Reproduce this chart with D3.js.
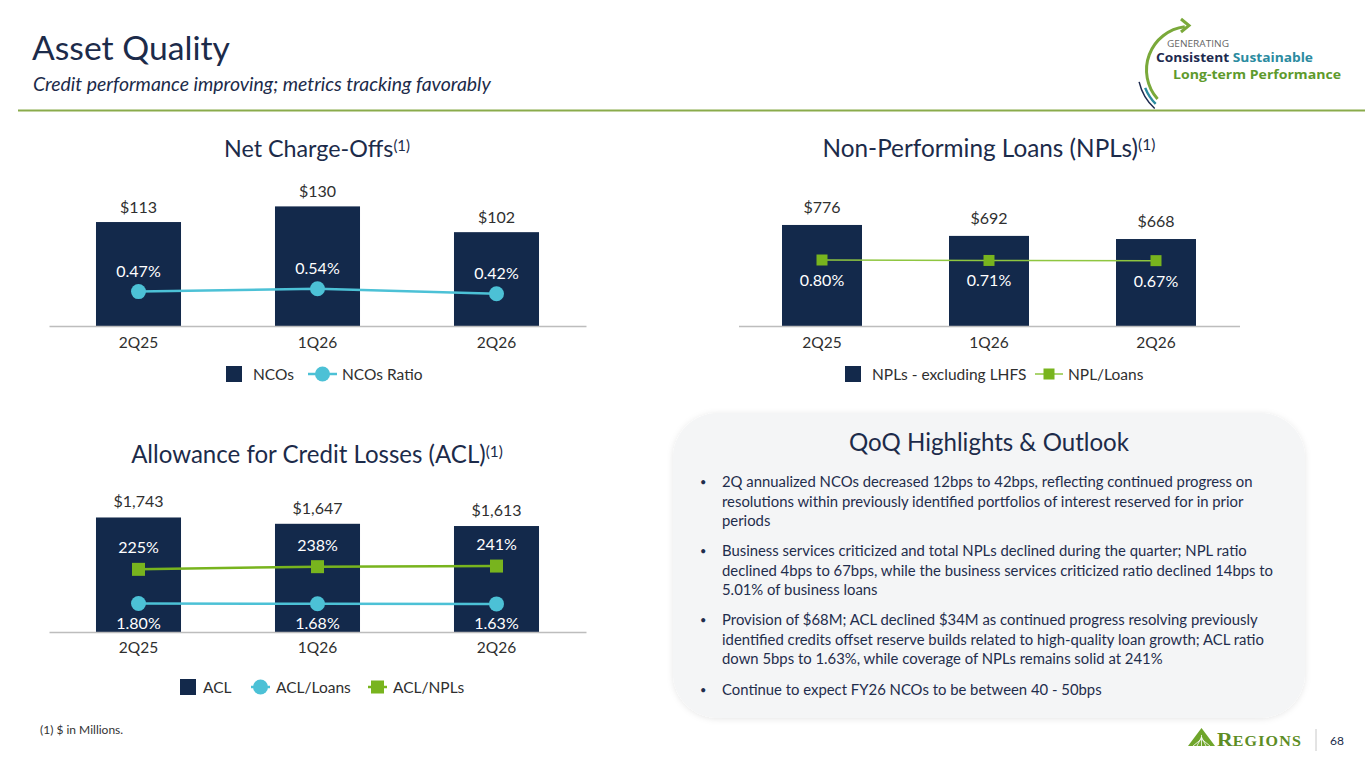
<!DOCTYPE html>
<html><head><meta charset="utf-8">
<script src="https://cdn.jsdelivr.net/npm/d3@7"></script>
<style>
body{margin:0;background:#fff;}
svg{display:block;font-family:Lato,'Noto Sans',sans-serif;}
</style>
</head><body>
<script>
// ---------------- data ----------------
const categories = ["2Q25", "1Q26", "2Q26"];
const ncoValues = [113, 130, 102];
const ncoRatio = [0.47, 0.54, 0.42];
const nplValues = [776, 692, 668];
const nplRatio = [0.80, 0.71, 0.67];
const aclValues = [1743, 1647, 1613];
const aclToLoans = [1.80, 1.68, 1.63];
const aclToNpls = [225, 238, 241];
const highlights = [
  ["2Q annualized NCOs decreased 12bps to 42bps, reflecting continued progress on",
   "resolutions within previously identified portfolios of interest reserved for in prior",
   "periods"],
  ["Business services criticized and total NPLs declined during the quarter; NPL ratio",
   "declined 4bps to 67bps, while the business services criticized ratio declined 14bps to",
   "5.01% of business loans"],
  ["Provision of $68M; ACL declined $34M as continued progress resolving previously",
   "identified credits offset reserve builds related to high-quality loan growth; ACL ratio",
   "down 5bps to 1.63%, while coverage of NPLs remains solid at 241%"],
  ["Continue to expect FY26 NCOs to be between 40 - 50bps"]
];

// ---------------- style ----------------
const NAVY = "#13294b", CYAN = "#4cc1d6", GREEN = "#78b41e", GREEN_L = "#8fc640";
const TXT = "#2f2f2f", TITLE = "#1c2b4a";
const W = 1365, H = 768;

const svg = d3.select("body").append("svg").attr("width", W).attr("height", H);
const defs = svg.append("defs");
const f = defs.append("filter").attr("id", "shadow").attr("x", "-5%").attr("y", "-5%").attr("width", "110%").attr("height", "115%");
f.append("feDropShadow").attr("dx", 0).attr("dy", 1).attr("stdDeviation", 3).attr("flood-color", "#000").attr("flood-opacity", 0.10);

function fitWidth(sel, target) {
  const w = sel.node().getComputedTextLength();
  const fs = parseFloat(sel.attr("font-size"));
  sel.attr("font-size", (fs * target / w).toFixed(2));
}

// ---------------- header ----------------
const t1 = svg.append("text").attr("x", 32).attr("y", 60).attr("font-size", 32)
  .attr("fill", TITLE).attr("font-family", "Lato").text("Asset Quality");
fitWidth(t1, 198);
const t2 = svg.append("text").attr("x", 33).attr("y", 91).attr("font-size", 18)
  .attr("fill", TITLE).attr("font-family", "Lato").attr("font-style", "italic")
  .text("Credit performance improving; metrics tracking favorably");
fitWidth(t2, 458);
svg.append("line").attr("x1", 18).attr("x2", W).attr("y1", 110.5).attr("y2", 110.5)
  .attr("stroke", "#8aab4b").attr("stroke-width", 2);

// top-right logo
const lg = svg.append("g");
const cx = 1190, cy = 70;
lg.append("path").attr("transform", `translate(${cx},${cy})`)
  .attr("d", d3.arc()({innerRadius: 42, outerRadius: 45, startAngle: -2.3, endAngle: -0.12}))
  .attr("fill", "#7aa93a");
lg.append("path").attr("transform", `translate(${cx},${cy})`)
  .attr("d", d3.arc()({innerRadius: 47, outerRadius: 49.5, startAngle: -2.35, endAngle: -1.95}))
  .attr("fill", "#2b8ba0");
lg.append("path").attr("transform", `translate(${cx},${cy})`)
  .attr("d", d3.arc()({innerRadius: 51.5, outerRadius: 53, startAngle: -2.4, endAngle: -1.8}))
  .attr("fill", "#1d2a4f");
lg.append("path").attr("d", "M1181,19 L1189,25.5 L1181,32").attr("fill", "none")
  .attr("stroke", "#7aa93a").attr("stroke-width", 3);
lg.append("text").attr("x", 1167).attr("y", 46.5).attr("font-size", 8.5)
  .attr("fill", "#666").attr("font-family", "Open Sans")
  .attr("textLength", 62).attr("lengthAdjust", "spacingAndGlyphs").text("GENERATING");
const lgt2 = lg.append("text").attr("x", 1156).attr("y", 62).attr("font-size", 12.5)
  .attr("font-family", "Open Sans").attr("font-weight", 700);
lgt2.append("tspan").attr("fill", "#1d2a4f").text("Consistent ");
lgt2.append("tspan").attr("fill", "#2b8ba0").text("Sustainable");
lgt2.attr("textLength", 157).attr("lengthAdjust", "spacingAndGlyphs");
lg.append("text").attr("x", 1173).attr("y", 79).attr("font-size", 12.5)
  .attr("font-family", "Open Sans").attr("font-weight", 700).attr("fill", "#5e9a2c")
  .attr("textLength", 168).attr("lengthAdjust", "spacingAndGlyphs")
  .text("Long-term Performance");

// ---------------- chart builder ----------------
function chartTitle(text, cxT, y, target) {
  const t = svg.append("text").attr("x", cxT).attr("y", y).attr("text-anchor", "middle")
    .attr("font-size", 22).attr("fill", TITLE);
  t.append("tspan").text(text);
  t.append("tspan").attr("dy", "-0.42em").style("font-size", "0.64em").text("(1)");
  fitWidth(t, target);
}

function drawChart(cfg) {
  const g = svg.append("g");
  const x = d3.scaleBand().domain(categories).range(cfg.xRange)
    .paddingInner(cfg.pad).paddingOuter(cfg.pad / 2);
  const y = d3.scaleLinear().domain(cfg.yDomain).range(cfg.yRange);
  const base = cfg.yRange[0];

  // bars
  g.selectAll("rect.bar").data(cfg.values).join("rect").attr("class", "bar")
    .attr("x", (d, i) => x(categories[i])).attr("width", x.bandwidth())
    .attr("y", d => y(d)).attr("height", d => base - y(d)).attr("fill", NAVY);
  g.selectAll("text.val").data(cfg.values).join("text").attr("class", "val")
    .attr("x", (d, i) => x(categories[i]) + x.bandwidth() / 2)
    .attr("y", d => y(d) - cfg.valGap).attr("text-anchor", "middle")
    .attr("font-size", 16).attr("fill", TXT).text(cfg.valFmt);

  // axis
  const ax = g.append("g").attr("transform", `translate(0,${base})`)
    .call(d3.axisBottom(x).tickSizeInner(0).tickSizeOuter(0).tickPadding(cfg.tickPad));
  ax.select(".domain").attr("stroke", "#bdbdbd").attr("stroke-width", 1.5);
  ax.selectAll("text").attr("font-size", 15.5).attr("fill", TXT).attr("font-family", "Lato");

  // series lines
  cfg.series.forEach(s => {
    const ys = d3.scaleLinear().domain(s.domain).range(s.range);
    const cxf = i => x(categories[i]) + x.bandwidth() / 2;
    const line = d3.line().x((d, i) => cxf(i)).y(d => ys(d));
    g.append("path").datum(s.data).attr("d", line).attr("fill", "none")
      .attr("stroke", s.lineColor).attr("stroke-width", s.lineWidth);
    if (s.marker === "circle") {
      g.selectAll(null).data(s.data).join("circle")
        .attr("cx", (d, i) => cxf(i)).attr("cy", d => ys(d)).attr("r", s.size / 2).attr("fill", s.color);
    } else {
      g.selectAll(null).data(s.data).join("rect")
        .attr("x", (d, i) => cxf(i) - s.size / 2).attr("y", d => ys(d) - s.size / 2)
        .attr("width", s.size).attr("height", s.size).attr("fill", s.color);
    }
    g.selectAll(null).data(s.data).join("text")
      .attr("x", (d, i) => cxf(i)).attr("y", d => ys(d) + s.labelDy)
      .attr("text-anchor", "middle").attr("font-size", 16).attr("fill", "#fff").text(s.fmt);
  });

  // legend
  cfg.legend.forEach(l => {
    if (l.type === "bar") {
      g.append("rect").attr("x", l.x).attr("y", l.y - 8).attr("width", 16).attr("height", 16).attr("fill", NAVY);
    } else {
      g.append("line").attr("x1", l.x).attr("x2", l.x + l.len).attr("y1", l.y).attr("y2", l.y)
        .attr("stroke", l.lineColor).attr("stroke-width", l.lineWidth);
      const mx = l.x + l.len / 2;
      if (l.type === "circle") g.append("circle").attr("cx", mx).attr("cy", l.y).attr("r", l.size / 2).attr("fill", l.color);
      else g.append("rect").attr("x", mx - l.size / 2).attr("y", l.y - l.size / 2).attr("width", l.size).attr("height", l.size).attr("fill", l.color);
    }
    g.append("text").attr("x", l.tx).attr("y", l.y + 6).attr("font-size", 15.5).attr("fill", TXT).text(l.label);
  });
}

const money = d3.format("$,");
const pct2 = d => d3.format(".2f")(d) + "%";
const pct0 = d => d3.format("d")(d) + "%";

// Net Charge-Offs
chartTitle("Net Charge-Offs", 317, 157, 186);
drawChart({
  xRange: [49, 586], pad: 0.525, yDomain: [0, 150], yRange: [326, 188],
  values: ncoValues, valFmt: money, valGap: 9, tickPad: 11,
  series: [{data: ncoRatio, domain: [0, 1], range: [311.2, 269.5], marker: "circle", size: 15,
    color: CYAN, lineColor: CYAN, lineWidth: 2.5, labelDy: -15, fmt: pct2}],
  legend: [
    {type: "bar", x: 226, y: 374, tx: 253, label: "NCOs"},
    {type: "circle", x: 308, len: 29, y: 374, size: 15, color: CYAN, lineColor: CYAN, lineWidth: 2.5, tx: 342, label: "NCOs Ratio"}
  ]
});

// Non-Performing Loans
chartTitle("Non-Performing Loans (NPLs)", 989, 157, 333);
drawChart({
  xRange: [738.5, 1239.5], pad: 0.521, yDomain: [0, 1000], yRange: [326, 195.8],
  values: nplValues, valFmt: money, valGap: 12, tickPad: 11,
  series: [{data: nplRatio, domain: [0, 1], range: [264, 259], marker: "square", size: 11,
    color: GREEN, lineColor: GREEN_L, lineWidth: 1.5, labelDy: 26, fmt: pct2}],
  legend: [
    {type: "bar", x: 845, y: 374, tx: 872, label: "NPLs - excluding LHFS"},
    {type: "square", x: 1035, len: 28, y: 374, size: 11, color: GREEN, lineColor: GREEN_L, lineWidth: 1.5, tx: 1068, label: "NPL/Loans"}
  ]
});

// Allowance for Credit Losses
chartTitle("Allowance for Credit Losses (ACL)", 317, 463, 372);
drawChart({
  xRange: [49, 586], pad: 0.525, yDomain: [0, 2000], yRange: [632, 500.6],
  values: aclValues, valFmt: money, valGap: 10, tickPad: 10,
  series: [
    {data: aclToNpls, domain: [0, 300], range: [615.7, 553.9], marker: "square", size: 13,
      color: GREEN, lineColor: GREEN, lineWidth: 2.5, labelDy: -16, fmt: pct0},
    {data: aclToLoans, domain: [0, 2], range: [608, 603], marker: "circle", size: 15,
      color: CYAN, lineColor: CYAN, lineWidth: 2.5, labelDy: 25, fmt: pct2}
  ],
  legend: [
    {type: "bar", x: 180, y: 687, tx: 203, label: "ACL"},
    {type: "circle", x: 251, len: 19, y: 687, size: 15, color: CYAN, lineColor: CYAN, lineWidth: 2.5, tx: 276, label: "ACL/Loans"},
    {type: "square", x: 368, len: 19, y: 687, size: 13, color: GREEN, lineColor: GREEN, lineWidth: 2.5, tx: 393, label: "ACL/NPLs"}
  ]
});

// ---------------- highlights box ----------------
svg.append("rect").attr("x", 673).attr("y", 413).attr("width", 632).attr("height", 305)
  .attr("rx", 45).attr("ry", 45).attr("fill", "#f4f5f6").attr("filter", "url(#shadow)");
const bt = svg.append("text").attr("x", 989).attr("y", 451).attr("text-anchor", "middle")
  .attr("font-size", 24).attr("fill", TITLE).text("QoQ Highlights & Outlook");
fitWidth(bt, 280);

const paraTop = [487, 556, 625, 695];
const lineH = 19.5;
const hl = svg.append("g").attr("fill", "#1f2d4c");
highlights.forEach((p, pi) => {
  hl.append("text").attr("class", "bul").attr("x", 700).attr("y", paraTop[pi] - 1).attr("font-size", 11).text("•");
  p.forEach((ln, li) => {
    hl.append("text").attr("class", "hl").attr("x", 722).attr("y", paraTop[pi] + li * lineH)
      .attr("font-size", 15).text(ln);
  });
});
let maxW = 0;
hl.selectAll("text.hl").each(function () { maxW = Math.max(maxW, this.getComputedTextLength()); });
hl.selectAll("text.hl").attr("font-size", (15 * 551 / maxW).toFixed(2));

// ---------------- footer ----------------
svg.append("text").attr("x", 40).attr("y", 734).attr("font-size", 12).attr("fill", "#333")
  .text("(1) $ in Millions.");
const rg = svg.append("g");
rg.append("path").attr("d", "M1188,746 L1201.5,728 L1215,746 Z").attr("fill", "#6fa52b");
rg.append("path").attr("d", "M1201.5,746 L1201.5,735 M1197,746 L1201.5,737 M1206,746 L1201.5,737 M1193,746 L1201.5,739 M1210,746 L1201.5,739")
  .attr("stroke", "#fff").attr("stroke-width", 0.8);
const reg = rg.append("text").attr("x", 1217).attr("y", 746).attr("font-family", "Liberation Serif")
  .attr("fill", "#5d8d24").attr("font-weight", 700);
reg.append("tspan").attr("font-size", 19).text("R");
reg.append("tspan").attr("font-size", 14).attr("letter-spacing", 1).text("EGIONS");
reg.attr("textLength", 85).attr("lengthAdjust", "spacingAndGlyphs");
rg.append("line").attr("x1", 1316).attr("x2", 1316).attr("y1", 729).attr("y2", 751).attr("stroke", "#c8c8c8");
rg.append("text").attr("x", 1330).attr("y", 745).attr("font-size", 12).attr("fill", TITLE).text("68");
</script>
</body></html>
